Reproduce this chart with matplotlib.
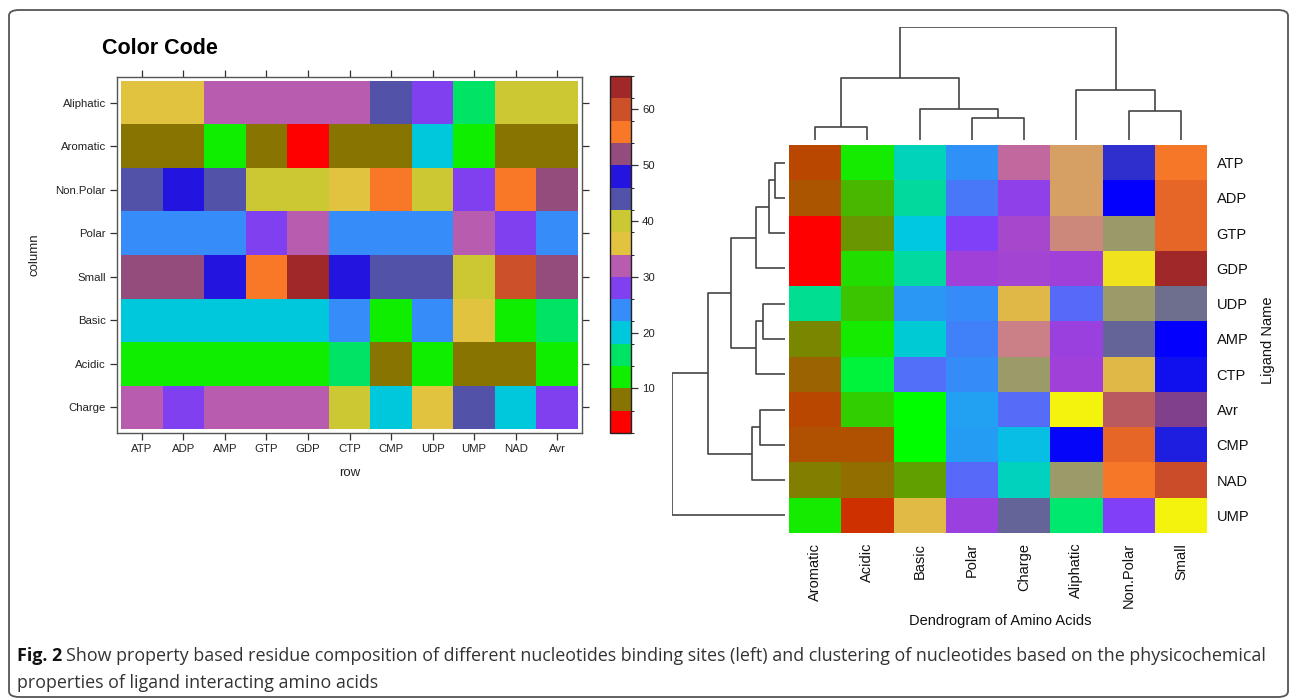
import matplotlib
matplotlib.use("Agg")
import matplotlib.pyplot as plt
import numpy as np
from matplotlib.colors import ListedColormap, BoundaryNorm, LinearSegmentedColormap
from matplotlib.patches import FancyBboxPatch

plt.rcParams["font.family"] = ["Liberation Sans", "DejaVu Sans"]

# ---- left panel: residue composition (levelplot) ----
ligands = ["ATP", "ADP", "AMP", "GTP", "GDP", "CTP", "CMP", "UDP", "UMP", "NAD", "Avr"]
properties = ["Aliphatic", "Aromatic", "Non.Polar", "Polar", "Small", "Basic", "Acidic", "Charge"]
composition = np.array([
    [36, 36, 32, 32, 32, 32, 44, 28, 16, 40, 40],
    [8, 8, 12, 8, 4, 8, 8, 20, 12, 8, 8],
    [44, 48, 44, 40, 40, 36, 56, 40, 28, 56, 52],
    [24, 24, 24, 28, 32, 24, 24, 24, 32, 28, 24],
    [52, 52, 48, 56, 64, 48, 44, 44, 40, 60, 52],
    [20, 20, 20, 20, 20, 24, 12, 24, 36, 12, 16],
    [12, 12, 12, 12, 12, 16, 8, 12, 8, 8, 12],
    [32, 28, 32, 32, 32, 40, 20, 36, 44, 20, 28],
])
code_breaks = np.arange(2, 67, 4)
code_colors = ["#FF0000", "#887400", "#10EE00", "#00E466", "#00C8DC", "#368CF8",
               "#8040F0", "#B85CB0", "#E2C340", "#CCC834", "#5252A8", "#2414E0",
               "#944C7C", "#F87828", "#CC5028", "#A02828"]
code_ticks = [10, 20, 30, 40, 50, 60]

# ---- right panel: clustered heatmap ----
amino_order = ["Aromatic", "Acidic", "Basic", "Polar", "Charge", "Aliphatic", "Non.Polar", "Small"]
ligand_order = ["ATP", "ADP", "GTP", "GDP", "UDP", "AMP", "CTP", "Avr", "CMP", "NAD", "UMP"]
cluster_values = np.array([
    [1.0, 2.88, 4.65, 6.0, 9.0, 9.7, 13.5, 16.0],
    [1.3, 2.47, 4.4, 6.3, 7.5, 9.7, 14.0, 16.4],
    [0.0, 2.24, 5.0, 7.0, 8.2, 9.4, 12.05, 16.4],
    [0.0, 2.76, 4.45, 8.0, 8.1, 8.0, 10.7, 18.0],
    [4.3, 2.6, 5.9, 6.05, 10.0, 6.5, 12.0, 12.8],
    [2.12, 2.88, 4.9, 6.2, 9.3, 7.8, 13.0, 14.0],
    [1.6, 3.55, 6.4, 6.05, 12.0, 8.0, 10.0, 13.85],
    [1.0, 2.65, 3.0, 5.7, 6.45, 11.0, 15.45, 15.0],
    [1.2, 1.2, 3.0, 5.8, 5.2, 13.95, 16.4, 13.7],
    [2.05, 1.8, 2.3, 6.5, 4.7, 12.0, 16.0, 17.0],
    [2.88, 0.7, 10.05, 7.8, 13.0, 4.0, 7.05, 11.0],
])
cluster_palette = ["#FF0000", "#B84800", "#887800", "#00FF00", "#00E870", "#00C8E0",
                   "#3090F8", "#8040F8", "#A040D8", "#C068A0", "#E0B848", "#F4F40C",
                   "#9C9C68", "#646498", "#0000FF", "#80408C", "#F87828", "#CC4C28",
                   "#A02828"]
# (child a, child b, height) - leaves first, new clusters numbered after them
col_merges = [(0, 1, 12.7), (3, 4, 22.3), (6, 7, 29.0), (2, 9, 31.0),
              (5, 10, 50.0), (8, 11, 61.7), (13, 12, 113.3)]
row_merges = [(0, 1, 9.7), (11, 2, 16.3), (4, 5, 22.3), (7, 8, 24.7),
              (12, 3, 29.3), (13, 6, 29.3), (14, 9, 32.7), (15, 16, 53.7),
              (18, 17, 77.0), (19, 10, 113.3)]


def draw_dendro(ax, merges, n, sideways):
    pos = list(np.arange(n) + 0.5)
    hgt = [0.0] * n
    for a, b, h in merges:
        p = [pos[a], pos[a], pos[b], pos[b]]
        q = [hgt[a], h, h, hgt[b]]
        if sideways:
            ax.plot(q, p, color="#444444", lw=1.2, solid_capstyle="butt")
        else:
            ax.plot(p, q, color="#444444", lw=1.2, solid_capstyle="butt")
        pos.append((pos[a] + pos[b]) / 2)
        hgt.append(h)
    return max(hgt)


W, H = 1290, 699
fig = plt.figure(figsize=(W / 100, H / 100), dpi=100)


def box(x0, y0, x1, y1):
    return [x0 / W, 1 - y1 / H, (x1 - x0) / W, (y1 - y0) / H]


# outer frame
fig.patches.append(FancyBboxPatch((9 / W, 2 / H), 1279 / W, 687 / H,
                                  boxstyle="round,pad=0,rounding_size=0.008",
                                  transform=fig.transFigure, fill=False,
                                  edgecolor="#555555", lw=1.3))

# left levelplot
ax1 = fig.add_axes(box(117, 77, 582, 433))
cmap1 = ListedColormap(code_colors)
norm1 = BoundaryNorm(code_breaks, cmap1.N)
mesh = ax1.pcolormesh(np.arange(len(ligands) + 1) - 0.5, np.arange(len(properties) + 1) - 0.5,
                      composition, cmap=cmap1, norm=norm1)
ax1.set_xlim(-0.6, len(ligands) - 0.4)
ax1.set_ylim(len(properties) - 0.41, -0.59)
ax1.set_xticks(range(len(ligands)), ligands)
ax1.set_yticks(range(len(properties)), properties)
ax1.tick_params(direction="out", length=5, width=0.9, top=True, right=True,
                labeltop=False, labelright=False, labelsize=8.2, colors="#333333",
                labelcolor="#222222", pad=3)
for s in ax1.spines.values():
    s.set_color("#555555")
    s.set_linewidth(1.0)
ax1.set_xlabel("row", fontsize=9.5, labelpad=9, color="#222222")
fig.text(35 / W, 1 - 255 / H, "column", rotation=90, fontsize=9.5,
         ha="center", va="center", color="#222222")
fig.text(102 / W, 1 - 48 / H, "Color Code", fontsize=15.5, weight="bold",
         ha="left", va="center")

cax = fig.add_axes(box(610, 76, 631, 433))
cb = fig.colorbar(mesh, cax=cax, ticks=code_ticks)
cb.outline.set_linewidth(1.0)
cb.outline.set_edgecolor("#222222")
cax.tick_params(direction="out", length=5, width=0.9, labelsize=8.2, colors="#333333",
                labelcolor="#222222", pad=3)

# right clustered heatmap
ax2 = fig.add_axes(box(789, 145, 1207, 533))
cmap2 = LinearSegmentedColormap.from_list("clust", cluster_palette, N=512)
ax2.pcolormesh(cluster_values, cmap=cmap2, vmin=0, vmax=len(cluster_palette) - 1)
ax2.set_xlim(0, len(amino_order))
ax2.set_ylim(len(ligand_order), 0)
ax2.set_xticks(np.arange(len(amino_order)) + 0.5, amino_order, rotation=90)
ax2.set_yticks(np.arange(len(ligand_order)) + 0.5, ligand_order)
ax2.yaxis.tick_right()
ax2.tick_params(length=0, labelsize=10.5, pad=7, labelcolor="#111111")
for s in ax2.spines.values():
    s.set_visible(False)
fig.text(1000 / W, 1 - 621 / H, "Dendrogram of Amino Acids", fontsize=10.5,
         ha="center", va="center", color="#111111")
fig.text(1268 / W, 1 - 340 / H, "Ligand Name", rotation=90, fontsize=10.5,
         ha="center", va="center", color="#111111")

axt = fig.add_axes(box(789, 26.7, 1207, 140))
top = draw_dendro(axt, col_merges, len(amino_order), sideways=False)
axt.set_xlim(0, len(amino_order))
axt.set_ylim(0, top)
axt.axis("off")

axl = fig.add_axes(box(671.7, 145, 785, 533))
top = draw_dendro(axl, row_merges, len(ligand_order), sideways=True)
axl.set_ylim(len(ligand_order), 0)
axl.set_xlim(top, 0)
axl.axis("off")

# caption
cap_font = ["Open Sans", "DejaVu Sans"]
cap1 = ("Show property based residue composition of different nucleotides binding sites (left) "
        "and clustering of nucleotides based on the physicochemical")
fig.text(17 / W, 1 - 656 / H, "Fig. 2", fontsize=12.9, ha="left", va="center",
         family=cap_font, weight="bold", color="#111111")
fig.text(66 / W, 1 - 656 / H, cap1, fontsize=12.9, ha="left", va="center",
         family=cap_font, color="#333333")
fig.text(17 / W, 1 - 683 / H, "properties of ligand interacting amino acids", fontsize=12.9,
         ha="left", va="center", family=cap_font, color="#333333")

fig.savefig("out.png", dpi=100)
